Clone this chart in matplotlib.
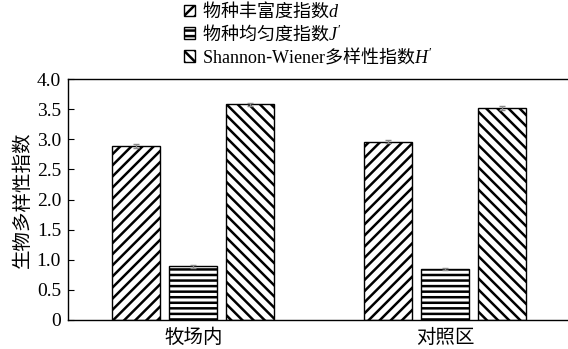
import matplotlib
matplotlib.use("Agg")
import matplotlib.pyplot as plt
import numpy as np
from matplotlib.font_manager import FontProperties

plt.rcParams['font.family'] = ['Liberation Serif', 'Noto Sans CJK SC']
plt.rcParams['mathtext.fontset'] = 'custom'
plt.rcParams['mathtext.rm'] = 'Liberation Serif'
plt.rcParams['mathtext.it'] = 'Liberation Serif:italic'
plt.rcParams['hatch.linewidth'] = 1.8

groups = ['牧场内', '对照区']
series_labels = ['物种丰富度指数$d$', '物种均匀度指数$J\'$',
                 '$\\mathrm{Shannon}$-$\\mathrm{Wiener}$多样性指数$H\'$']
richness = [2.89, 2.96]
evenness = [0.89, 0.85]
shannon = [3.58, 3.52]
richness_err = [0.03, 0.03]
evenness_err = [0.02, 0.02]
shannon_err = [0.02, 0.03]
yticks = [0, 0.5, 1.0, 1.5, 2.0, 2.5, 3.0, 3.5, 4.0]
ytick_labels = ['0', '0.5', '1.0', '1.5', '2.0', '2.5', '3.0', '3.5', '4.0']

fig = plt.figure(figsize=(5.68, 3.49), dpi=100)
ax = fig.add_axes([68/568, 29/349, 1 - 68/568, 241/349])

x = np.arange(len(groups))
offset = 0.2264
width = 0.19
hatches = ['///', '---', '\\\\\\']
data = [richness, evenness, shannon]
errs = [richness_err, evenness_err, shannon_err]
handles = []
for i, (vals, e, h, lab) in enumerate(zip(data, errs, hatches, series_labels)):
    b = ax.bar(x + (i - 1) * offset, vals, width, color='white', edgecolor='black',
               linewidth=1.0, hatch=h, label=lab, zorder=2,
               yerr=e, error_kw=dict(ecolor='#888888', elinewidth=1.0, capsize=2.5, capthick=1.0))
    handles.append(b)

ax.set_xlim(-0.498, 1.488)
ax.set_ylim(0, 4.0)
ax.set_yticks(yticks)
ax.set_yticklabels(ytick_labels)
ax.set_xticks(x)
ax.set_xticklabels(groups, fontsize=14, family=['Noto Sans CJK SC'])
ax.tick_params(axis='x', length=0, pad=5)
ax.tick_params(axis='y', direction='in', length=4, labelsize=14, pad=5)
ax.spines['right'].set_visible(False)
for s in ['left', 'top', 'bottom']:
    ax.spines[s].set_linewidth(1.0)

ax.set_ylabel('生物多样性指数', fontsize=14, family=['Noto Sans CJK SC'], labelpad=3)

leg = fig.legend(handles=handles, labels=series_labels, loc='upper left',
                 bbox_to_anchor=(177/568, 1.02), frameon=False,
                 prop=FontProperties(family='Noto Sans CJK SC', size=13),
                 handlelength=0.6, handleheight=0.6, handletextpad=0.4,
                 labelspacing=0.1, borderaxespad=0)

fig.savefig('out.png', dpi=100)
